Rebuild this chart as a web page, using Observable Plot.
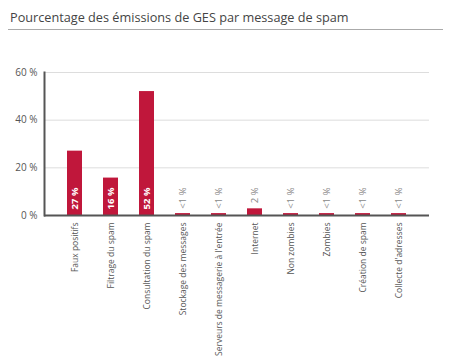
<!DOCTYPE html>
<html><head><meta charset="utf-8">
<script src="https://cdn.jsdelivr.net/npm/d3@7"></script>
<script src="https://cdn.jsdelivr.net/npm/@observablehq/plot@0.6"></script>
<style>
body{margin:0;background:#fff;font-family:"Open Sans",sans-serif;}
#wrap{position:relative;width:450px;height:360px;overflow:hidden}
#title{position:absolute;left:10px;top:8px;font-size:12.7px;color:#444;white-space:nowrap}
#rule{position:absolute;left:8px;top:29px;width:435px;height:1px;background:#aaa}
#chart{position:absolute;left:0;top:40px}
</style></head><body>
<div id="wrap">
<div id="title">Pourcentage des émissions de GES par message de spam</div>
<div id="rule"></div>
<div id="chart"></div>
</div>
<script>
const categories = ["Faux positifs","Filtrage du spam","Consultation du spam","Stockage des messages","Serveurs de messagerie à l'entrée","Internet","Non zombies","Zombies","Création de spam","Collecte d'adresses"];
const values = [27, 15.7, 52, 0.8, 0.8, 2.8, 0.8, 0.8, 0.8, 0.8];
const labels = ["27 %","16 %","52 %","<1 %","<1 %","2 %","<1 %","<1 %","<1 %","<1 %"];
const inside = [true,true,true,false,false,false,false,false,false,false];
const yTicks = [0,20,40,60];

const data = categories.map((c,i)=>({cat:c, value:values[i], label:labels[i], inside:inside[i]}));

const chart = Plot.plot({
  width:450, height:320,
  marginTop:32, marginBottom:145, marginLeft:44, marginRight:21,
  style:{fontFamily:"Open Sans, sans-serif", fontSize:"8.5px", color:"#555", background:"transparent"},
  x:{domain:categories, paddingInner:0.59, paddingOuter:0.6, label:null},
  y:{domain:[0,60], label:null},
  marks:[
    Plot.gridY([20,40,60], {stroke:"#ddd", strokeOpacity:1}),
    Plot.axisY(yTicks, {tickSize:0, tickPadding:7, tickFormat:d=>d+" %", label:null, fontSize:10, fill:"#555"}),
    Plot.axisX({tickRotate:-90, tickSize:0, tickPadding:7, label:null, fill:"#555"}),
    Plot.barY(data, {x:"cat", y:"value", fill:"#c0173b"}),
    Plot.ruleY([0], {stroke:"#555", strokeWidth:2}),
    Plot.frame({anchor:"left", stroke:"#555", strokeWidth:2}),
    Plot.text(data.filter(d=>d.inside), {x:"cat", y:()=>0, dy:-28, text:"label", rotate:-90, textAnchor:"end", fill:"white", fontWeight:"bold", fontSize:9.5}),
    Plot.text(data.filter(d=>!d.inside), {x:"cat", y:()=>0, dy:-28, text:"label", rotate:-90, textAnchor:"end", fill:"#888", fontSize:9.5})
  ]
});
document.getElementById("chart").appendChild(chart);
</script>
</body></html>
